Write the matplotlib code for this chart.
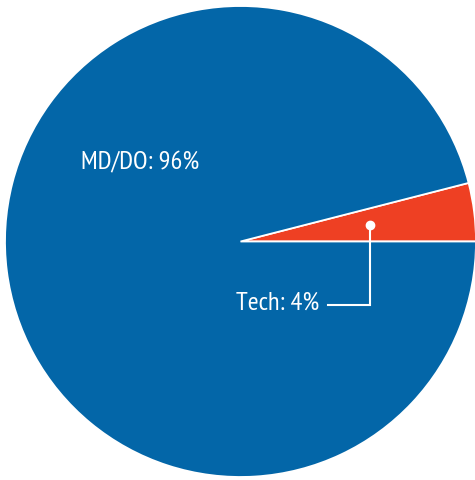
import numpy as np
import matplotlib.pyplot as plt

# Share of group by type
labels = ["Tech", "MD/DO"]
shares = [4, 96]
colors = ["#ee4023", "#0366a8"]

W, H = 475, 480
fig = plt.figure(figsize=(W / 100, H / 100), dpi=100)
ax = fig.add_axes([0, 0, 1, 1])

cx, cy, R = 240.5, 238.5, 235.5
wedges, _ = ax.pie(shares, colors=colors, startangle=0, counterclock=True,
                   center=(cx, cy), radius=R, frame=True,
                   wedgeprops=dict(edgecolor="white", linewidth=1.3))
ax.set_xlim(0, W)
ax.set_ylim(0, H)
ax.set_aspect("equal")
ax.axis("off")

font = ["PT Sans Narrow", "DejaVu Sans"]

# Tech label with leader line
w = wedges[0]
mid = np.deg2rad((w.theta1 + w.theta2) / 2)
px, py = cx + 0.555 * R * np.cos(mid), cy + 0.555 * R * np.sin(mid)
ax.plot([px, px, 328], [py, 175, 175], color="white", lw=1.5, solid_joinstyle="miter")
ax.plot(px, py, "o", color="white", ms=6)
ax.text(319, 177, f"{labels[0]}: {shares[0]}%", color="white", fontsize=19,
        ha="right", va="center", family=font)

# MD/DO label
ax.text(140, 317, f"{labels[1]}: {shares[1]}%", color="white", fontsize=19,
        ha="center", va="center", family=font)

fig.savefig("out.png", dpi=100)
